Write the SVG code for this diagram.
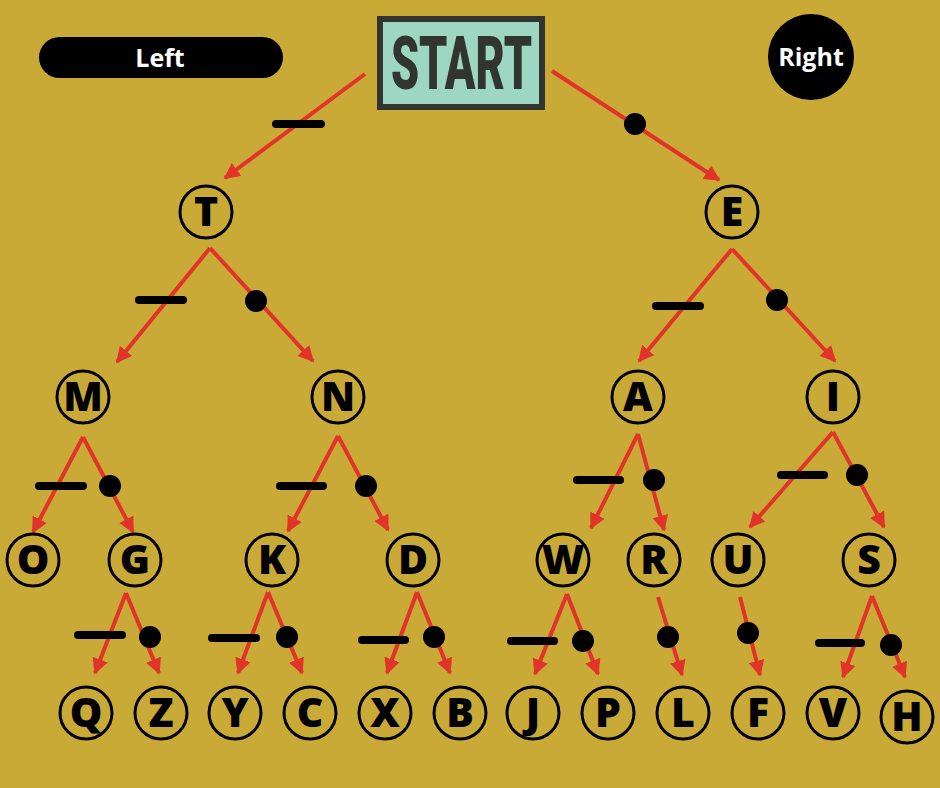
<svg xmlns="http://www.w3.org/2000/svg" width="940" height="788" viewBox="0 0 940 788">
<style>
.node circle{fill:none;stroke:#000;stroke-width:3}
.node text{font-family:"Open Sans","Liberation Sans",sans-serif;font-weight:800;font-size:41px;fill:#000;text-anchor:middle}
.edge{fill:none;stroke:#E2332A;stroke-width:4;marker-end:url(#ah)}
.dash{stroke:#000;stroke-width:8;stroke-linecap:round}
.dot{fill:#000}
.key{font-family:"Open Sans","Liberation Sans",sans-serif;font-weight:700;font-size:25px;fill:#fff;text-anchor:middle}
</style>
<defs>
<marker id="ah" viewBox="0 0 10 10" refX="9" refY="5" markerWidth="4" markerHeight="4" orient="auto" markerUnits="strokeWidth">
<path d="M0,0 L10,5 L0,10 z" fill="#E2332A"/>
</marker>
</defs>
<rect x="0" y="0" width="940" height="788" fill="#C9AA37"/>
<g id="legend-left"><rect x="39" y="37" width="244" height="41" rx="20.5" fill="#000"/><text class="key" x="160" y="67">Left</text></g>
<g id="legend-right"><circle cx="811" cy="57" r="43" fill="#000"/><text class="key" x="811" y="66">Right</text></g>
<g id="start"><rect x="380" y="19" width="162" height="88" fill="#9DD6C3" stroke="#313431" stroke-width="6"/><text x="391" y="89" textLength="141" lengthAdjust="spacingAndGlyphs" font-family="Roboto, 'Liberation Sans', sans-serif" font-weight="900" font-size="74" fill="#313431">START</text></g>
<g id="connectors">
<path class="edge" d="M365,74 L225,178"/>
<path class="edge" d="M552,71 L719,180"/>
<path class="edge" d="M210,248 L117,362"/>
<path class="edge" d="M210,248 L313,361"/>
<path class="edge" d="M732,249 L639,361"/>
<path class="edge" d="M732,249 L835,361"/>
<path class="edge" d="M83,437 L33,532"/>
<path class="edge" d="M83,437 L133,532"/>
<path class="edge" d="M338,436 L288,531"/>
<path class="edge" d="M338,436 L388,530"/>
<path class="edge" d="M638,434 L591,528"/>
<path class="edge" d="M638,434 L664,530"/>
<path class="edge" d="M833,432 L750,527"/>
<path class="edge" d="M833,432 L884,527"/>
<path class="edge" d="M126,593 L95,673"/>
<path class="edge" d="M126,593 L159,673"/>
<path class="edge" d="M268,592 L238,673"/>
<path class="edge" d="M268,592 L302,673"/>
<path class="edge" d="M417,592 L387,673"/>
<path class="edge" d="M417,592 L450,673"/>
<path class="edge" d="M567,594 L535,674"/>
<path class="edge" d="M567,594 L598,674"/>
<path class="edge" d="M658,597 L682,675"/>
<path class="edge" d="M740,597 L760,675"/>
<path class="edge" d="M872,596 L843,677"/>
<path class="edge" d="M872,596 L905,677"/>
</g>
<g id="edge-labels">
<line class="dash" x1="276" y1="124" x2="321" y2="124"/>
<line class="dash" x1="139" y1="300" x2="183" y2="300"/>
<line class="dash" x1="656" y1="306" x2="700" y2="306"/>
<line class="dash" x1="39" y1="486" x2="83" y2="486"/>
<line class="dash" x1="280" y1="486" x2="323" y2="486"/>
<line class="dash" x1="577" y1="480" x2="620" y2="480"/>
<line class="dash" x1="781" y1="475" x2="824" y2="475"/>
<line class="dash" x1="78" y1="635" x2="122" y2="635"/>
<line class="dash" x1="212" y1="638" x2="256" y2="638"/>
<line class="dash" x1="362" y1="640" x2="405" y2="640"/>
<line class="dash" x1="511" y1="641" x2="554" y2="641"/>
<line class="dash" x1="819" y1="643" x2="861" y2="643"/>
<circle class="dot" cx="635" cy="124" r="11"/>
<circle class="dot" cx="256" cy="301" r="11"/>
<circle class="dot" cx="777" cy="300" r="11"/>
<circle class="dot" cx="110" cy="486" r="11"/>
<circle class="dot" cx="366" cy="486" r="11"/>
<circle class="dot" cx="654" cy="480" r="11"/>
<circle class="dot" cx="857" cy="475" r="11"/>
<circle class="dot" cx="150" cy="637" r="11"/>
<circle class="dot" cx="287" cy="637" r="11"/>
<circle class="dot" cx="434" cy="637" r="11"/>
<circle class="dot" cx="583" cy="641" r="11"/>
<circle class="dot" cx="668" cy="637" r="11"/>
<circle class="dot" cx="748" cy="633" r="11"/>
<circle class="dot" cx="891" cy="645" r="11"/>
</g>
<g id="node-T" class="node"><circle cx="206" cy="212" r="26"/><text x="206" y="226">T</text></g>
<g id="node-E" class="node"><circle cx="732" cy="212" r="26"/><text x="732" y="226">E</text></g>
<g id="node-M" class="node"><circle cx="83" cy="397" r="26"/><text x="83" y="411">M</text></g>
<g id="node-N" class="node"><circle cx="338" cy="397" r="26"/><text x="338" y="411">N</text></g>
<g id="node-A" class="node"><circle cx="638" cy="397" r="26"/><text x="638" y="411">A</text></g>
<g id="node-I" class="node"><circle cx="833" cy="397" r="26"/><text x="833" y="411">I</text></g>
<g id="node-O" class="node"><circle cx="33" cy="560" r="26"/><text x="33" y="574">O</text></g>
<g id="node-G" class="node"><circle cx="135" cy="560" r="26"/><text x="135" y="574">G</text></g>
<g id="node-K" class="node"><circle cx="272" cy="560" r="26"/><text x="272" y="574">K</text></g>
<g id="node-D" class="node"><circle cx="413" cy="560" r="26"/><text x="413" y="574">D</text></g>
<g id="node-W" class="node"><circle cx="563" cy="560" r="26"/><text x="563" y="574">W</text></g>
<g id="node-R" class="node"><circle cx="654" cy="560" r="26"/><text x="654" y="574">R</text></g>
<g id="node-U" class="node"><circle cx="738" cy="560" r="26"/><text x="738" y="574">U</text></g>
<g id="node-S" class="node"><circle cx="869" cy="560" r="26"/><text x="869" y="574">S</text></g>
<g id="node-Q" class="node"><circle cx="86" cy="713" r="26"/><text x="86" y="727">Q</text></g>
<g id="node-Z" class="node"><circle cx="161" cy="713" r="26"/><text x="161" y="727">Z</text></g>
<g id="node-Y" class="node"><circle cx="235" cy="713" r="26"/><text x="235" y="727">Y</text></g>
<g id="node-C" class="node"><circle cx="310" cy="713" r="26"/><text x="310" y="727">C</text></g>
<g id="node-X" class="node"><circle cx="385" cy="713" r="26"/><text x="385" y="727">X</text></g>
<g id="node-B" class="node"><circle cx="460" cy="713" r="26"/><text x="460" y="727">B</text></g>
<g id="node-J" class="node"><circle cx="533" cy="713" r="26"/><text x="533" y="727">J</text></g>
<g id="node-P" class="node"><circle cx="608" cy="713" r="26"/><text x="608" y="727">P</text></g>
<g id="node-L" class="node"><circle cx="683" cy="713" r="26"/><text x="683" y="727">L</text></g>
<g id="node-F" class="node"><circle cx="758" cy="713" r="26"/><text x="758" y="727">F</text></g>
<g id="node-V" class="node"><circle cx="833" cy="713" r="26"/><text x="833" y="727">V</text></g>
<g id="node-H" class="node"><circle cx="907" cy="717" r="26"/><text x="907" y="731">H</text></g>
</svg>
